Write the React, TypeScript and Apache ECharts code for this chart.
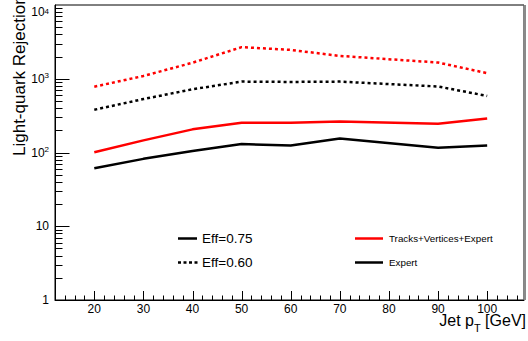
import React, { useEffect, useRef } from "react";
import * as echarts from "echarts";

// Jet pT bins (GeV)
const ptBins = [20, 30, 40, 50, 60, 70, 90, 100];
// Light-quark rejection, Tracks+Vertices+Expert
const tveEff075 = [101, 146, 206, 254, 254, 264, 246, 290];
const tveEff060 = [780, 1090, 1650, 2680, 2460, 2040, 1660, 1190];
// Light-quark rejection, Expert
const expEff075 = [61, 82, 105, 130, 124, 155, 116, 124];
const expEff060 = [380, 530, 720, 915, 905, 915, 785, 585];

const xTickLabels = [20, 30, 40, 50, 60, 70, 80, 90, 100];
const legendEff = ["Eff=0.75", "Eff=0.60"];
const legendAlgo = ["Tracks+Vertices+Expert", "Expert"];

const FONT = "Liberation Sans, Arial, Helvetica, sans-serif";

export default function App() {
  const ref = useRef<HTMLDivElement>(null);
  useEffect(() => {
    if (!ref.current) return;
    const chart = echarts.init(ref.current, null, { renderer: "svg" });

    // tick definitions (x: minor every 2, major every 10; y: log decades)
    const xTicks: number[][] = [];
    for (let v = 14; v <= 106; v += 2) xTicks.push([v, 1, v % 10 === 0 ? 1 : 0]);
    const yTicks: number[][] = [];
    for (let d = 1; d <= 1000; d *= 10) {
      for (let m = 1; m <= 9; m++) {
        if (m === 1 && d === 1) continue;
        yTicks.push([12, m * d, m === 1 ? 1 : 0]);
      }
    }

    const mk = (vals: number[]) => ptBins.map((x, i) => [x, vals[i]]);

    const supLabel = (v: number) => {
      if (v === 1) return "{b|1}";
      if (v === 10) return "{b|10}";
      const e = Math.round(Math.log10(v));
      if (e === 4) return "{t|10}{ts|4}";
      return "{b|10}{s|" + e + "}";
    };

    chart.setOption({
      animation: false,
      grid: {
        left: 55,
        right: 4,
        top: 5,
        bottom: 41,
        show: true,
        borderColor: "#000",
        borderWidth: 1,
        containLabel: false,
        outerBoundsMode: "none",
      },
      xAxis: {
        type: "value",
        min: 12,
        max: 107.5,
        splitNumber: 10,
        axisLine: { show: true, lineStyle: { color: "#000", width: 1 } },
        axisTick: { show: false },
        splitLine: { show: false },
        axisLabel: {
          showMinLabel: false,
          showMaxLabel: false,
          margin: 3,
          color: "#000",
          fontSize: 12,
          fontFamily: FONT,
          formatter: (v: number) => (xTickLabels.indexOf(v) >= 0 ? String(v) : ""),
        },
      },
      yAxis: {
        type: "log",
        logBase: 10,
        min: 1,
        max: 10000,
        axisLine: { show: true, lineStyle: { color: "#000", width: 1 } },
        axisTick: { show: false },
        splitLine: { show: false },
        minorTick: { show: false },
        axisLabel: {
          margin: 6,
          color: "#000",
          fontFamily: FONT,
          formatter: supLabel,
          rich: {
            b: { fontSize: 12, lineHeight: 14, fontFamily: FONT, color: "#000" },
            s: { fontSize: 8, lineHeight: 8, verticalAlign: "top", fontFamily: FONT, color: "#000" },
            t: { fontSize: 12, lineHeight: 14, padding: [14, 0, 0, 0], fontFamily: FONT, color: "#000" },
            ts: { fontSize: 8, lineHeight: 8, padding: [9, 0, 0, 0], verticalAlign: "top", fontFamily: FONT, color: "#000" },
          },
        },
      },
      series: [
        {
          type: "line",
          data: mk(tveEff060),
          symbol: "none",
          lineStyle: { color: "#ff0000", width: 2.5, type: [3, 3] },
          z: 3,
        },
        {
          type: "line",
          data: mk(expEff060),
          symbol: "none",
          lineStyle: { color: "#000000", width: 2.5, type: [3, 3] },
          z: 3,
        },
        {
          type: "line",
          data: mk(tveEff075),
          symbol: "none",
          lineStyle: { color: "#ff0000", width: 2.5 },
          z: 3,
        },
        {
          type: "line",
          data: mk(expEff075),
          symbol: "none",
          lineStyle: { color: "#000000", width: 2.5 },
          z: 3,
        },
        {
          type: "custom",
          data: xTicks,
          silent: true,
          clip: false,
          z: 4,
          renderItem: (_p: any, api: any) => {
            const p = api.coord([api.value(0), api.value(1)]);
            const px = Math.round(p[0]) + 0.5;
            const len = api.value(2) ? 9 : 4.5;
            return {
              type: "line",
              shape: { x1: px, y1: p[1], x2: px, y2: p[1] - len },
              style: { stroke: "#000", lineWidth: 1 },
            };
          },
        },
        {
          type: "custom",
          data: yTicks,
          silent: true,
          clip: false,
          z: 4,
          renderItem: (_p: any, api: any) => {
            const p = api.coord([api.value(0), api.value(1)]);
            const py = Math.round(p[1]) + 0.5;
            const len = api.value(2) ? 14.5 : 7.5;
            return {
              type: "line",
              shape: { x1: p[0], y1: py, x2: p[0] + len, y2: py },
              style: { stroke: "#000", lineWidth: 1 },
            };
          },
        },
      ],
      graphic: [
        // right frame shading
        { type: "rect", shape: { x: 523.5, y: 5, width: 2.5, height: 295 }, style: { fill: "#8a8a8a" }, z: 10 },
        // axis titles
        {
          type: "text",
          x: 19.5,
          y: 156,
          rotation: Math.PI / 2,
          style: {
            text: "Light-quark Rejection",
            font: "17px " + FONT,
            fill: "#000",
            align: "left",
            verticalAlign: "middle",
            textAlign: "left",
            textVerticalAlign: "middle",
          },
        },
        {
          type: "text",
          x: 526,
          y: 312.5,
          style: {
            text: "{a|Jet p}{s|T}{a| [GeV]}",
            fill: "#000",
            align: "right",
            verticalAlign: "top",
            textAlign: "right",
            textVerticalAlign: "top",
            rich: {
              a: { fontSize: 16, lineHeight: 16, verticalAlign: "top", fontFamily: FONT, fill: "#000" },
              s: { fontSize: 11, lineHeight: 11, padding: [14, 0, 0, 0], fontFamily: FONT, fill: "#000" },
            },
          },
        },
        // legend: efficiencies
        { type: "line", shape: { x1: 178, y1: 238.5, x2: 197, y2: 238.5 }, style: { stroke: "#000", lineWidth: 2.5 } },
        {
          type: "text",
          x: 202,
          y: 238.5,
          style: { text: legendEff[0], font: "13.5px " + FONT, fill: "#000", verticalAlign: "middle", textVerticalAlign: "middle" },
        },
        {
          type: "line",
          shape: { x1: 178, y1: 262.5, x2: 198, y2: 262.5 },
          style: { stroke: "#000", lineWidth: 2.5, lineDash: [3, 2.5] },
        },
        {
          type: "text",
          x: 202,
          y: 262.5,
          style: { text: legendEff[1], font: "13.5px " + FONT, fill: "#000", verticalAlign: "middle", textVerticalAlign: "middle" },
        },
        // legend: algorithms
        { type: "line", shape: { x1: 355, y1: 238.5, x2: 383, y2: 238.5 }, style: { stroke: "#ff0000", lineWidth: 2.5 } },
        {
          type: "text",
          x: 389,
          y: 238.5,
          style: { text: legendAlgo[0], font: "9.8px " + FONT, fill: "#000", verticalAlign: "middle", textVerticalAlign: "middle" },
        },
        { type: "line", shape: { x1: 355, y1: 262.5, x2: 383, y2: 262.5 }, style: { stroke: "#000", lineWidth: 2.5 } },
        {
          type: "text",
          x: 389,
          y: 262.5,
          style: { text: legendAlgo[1], font: "9.8px " + FONT, fill: "#000", verticalAlign: "middle", textVerticalAlign: "middle" },
        },
      ],
    });
    return () => chart.dispose();
  }, []);

  return (
    <div
      ref={ref}
      style={{ position: "fixed", left: 0, top: 0, width: 528, height: 341, background: "#fff" }}
    />
  );
}
